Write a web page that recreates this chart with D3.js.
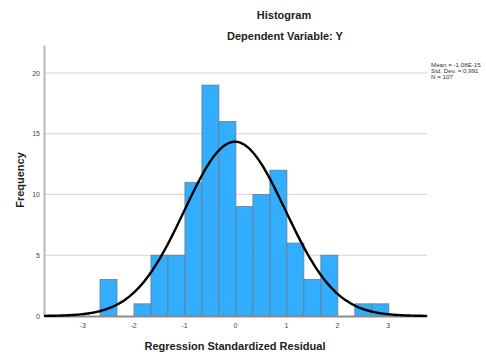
<!DOCTYPE html>
<html><head><meta charset="utf-8">
<script src="https://cdn.jsdelivr.net/npm/d3@7"></script>
<style>body{margin:0;background:#fff}svg{display:block}</style>
</head><body>
<script>
// ---- data ----
const binEdges = [-2.65, -2.317, -1.983, -1.650, -1.316, -0.983, -0.649, -0.316, 0.018, 0.352, 0.685, 1.019, 1.352, 1.686, 2.019, 2.353, 2.686, 3.020];
const counts   = [3, 0, 1, 5, 5, 11, 19, 16, 9, 10, 12, 6, 3, 5, 0, 1, 1];
const xTicks = [-3, -2, -1, 0, 1, 2, 3];
const yTicks = [0, 5, 10, 15, 20];
const meanVal = -1.08e-15, sdVal = 0.991, nVal = 107;
const statLines = ["Mean = -1,08E-15", "Std. Dev. = 0,991", "N = 107"];
const titleText = "Histogram", subtitleText = "Dependent Variable: Y";
const xLabel = "Regression Standardized Residual", yLabel = "Frequency";

const W = 486, H = 356;
const svg = d3.select("body").append("svg").attr("width", W).attr("height", H);
const font = "'Liberation Sans', Arial, sans-serif";

const x = d3.scaleLinear().domain([-3.75, 3.77]).range([44, 427]);
const y = d3.scaleLinear().domain([0, 22.3]).range([316, 45]);

// gridlines
svg.append("g").selectAll("line").data(yTicks.filter(d => d > 0)).join("line")
  .attr("x1", 44).attr("x2", 427).attr("y1", d => y(d)).attr("y2", d => y(d))
  .attr("stroke", "#d4d4d4").attr("stroke-width", 1);

// bars
const bins = counts.map((c, i) => ({x0: binEdges[i], x1: binEdges[i + 1], c}));
svg.append("g").selectAll("rect").data(bins.filter(b => b.c > 0)).join("rect")
  .attr("x", d => x(d.x0)).attr("width", d => x(d.x1) - x(d.x0))
  .attr("y", d => y(d.c)).attr("height", d => y(0) - y(d.c))
  .attr("fill", "#33adff").attr("stroke", "#6b7b88").attr("stroke-width", 0.8);

// axes
const xAxis = svg.append("g").attr("transform", `translate(0,${y(0)})`)
  .call(d3.axisBottom(x).tickValues(xTicks).tickSize(0).tickPadding(7).tickFormat(d => String(d)));
xAxis.select(".domain").attr("stroke", "#8c8c8c").attr("stroke-width", 2);
xAxis.selectAll("text").attr("font-family", font).attr("font-size", 7).attr("fill", "#444");

const yAxis = svg.append("g").attr("transform", `translate(44,0)`)
  .call(d3.axisLeft(y).tickValues(yTicks).tickSize(0).tickPadding(4).tickFormat(d => String(d)));
yAxis.select(".domain").attr("stroke", "#b8b8b8").attr("stroke-width", 2);
yAxis.selectAll("text").attr("font-family", font).attr("font-size", 7).attr("fill", "#444");

// normal curve
const binW = binEdges[1] - binEdges[0];
const curvePts = d3.range(0, 201).map(i => {
  const v = x.domain()[0] + (x.domain()[1] - x.domain()[0]) * i / 200;
  const dens = Math.exp(-0.5 * Math.pow((v - meanVal) / sdVal, 2)) / (sdVal * Math.sqrt(2 * Math.PI));
  return [v, dens * nVal * binW];
});
svg.append("path").datum(curvePts)
  .attr("d", d3.line().x(d => x(d[0])).y(d => y(d[1])).curve(d3.curveBasis))
  .attr("fill", "none").attr("stroke", "#000").attr("stroke-width", 2.4);

// titles
svg.append("text").attr("x", 284).attr("y", 18.5).attr("text-anchor", "middle")
  .attr("font-family", font).attr("font-weight", "bold").attr("font-size", 11).attr("fill", "#222").text(titleText);
svg.append("text").attr("x", 285).attr("y", 40).attr("text-anchor", "middle")
  .attr("font-family", font).attr("font-weight", "bold").attr("font-size", 11).attr("fill", "#222").text(subtitleText);
svg.append("text").attr("x", 235).attr("y", 349.5).attr("text-anchor", "middle")
  .attr("font-family", font).attr("font-weight", "bold").attr("font-size", 11).attr("fill", "#222").text(xLabel);
svg.append("text").attr("transform", "translate(24,180) rotate(-90)").attr("text-anchor", "middle")
  .attr("font-family", font).attr("font-weight", "bold").attr("font-size", 11).attr("fill", "#222").text(yLabel);

// stats legend
svg.append("g").selectAll("text").data(statLines).join("text")
  .attr("x", 431).attr("y", (d, i) => 66.5 + i * 6.2)
  .attr("font-family", font).attr("font-size", 6.2).attr("fill", "#333").text(d => d);
</script>
</body></html>
